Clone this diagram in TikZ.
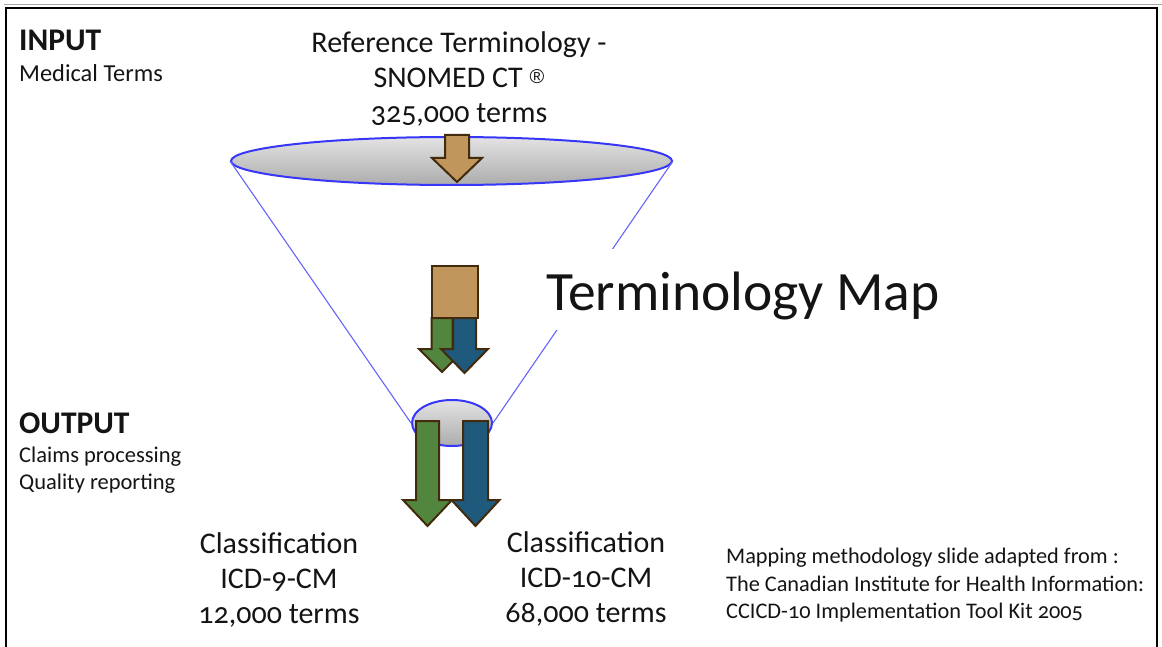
\documentclass[tikz,border=0pt]{standalone}
\usepackage{fontspec}
\setmainfont{Carlito}[Numbers=OldStyle]
\newfontfamily\regfont{Liberation Sans}
\usetikzlibrary{shapes.geometric}

\definecolor{tanfill}{RGB}{193,150,92}
\definecolor{mapgreen}{RGB}{82,134,62}
\definecolor{mapblue}{RGB}{31,90,125}
\definecolor{edgebrown}{RGB}{66,42,12}
\definecolor{rimblue}{RGB}{55,55,250}
\definecolor{funnelblue}{RGB}{100,100,250}
\definecolor{txt}{RGB}{20,20,20}

% block arrow pointing down: style, centre x, top y, shaft half-width, head y, head half-width, tip y
\newcommand{\blockdown}[7]{%
  \draw[#1] ({#2-#4},#3) -- ({#2+#4},#3) -- ({#2+#4},#5) -- ({#2+#6},#5)
    -- (#2,#7) -- ({#2-#6},#5) -- ({#2-#4},#5) -- cycle;}

\tikzset{
  blockedge/.style={draw=edgebrown, line width=2pt, line join=miter},
  rim/.style={ellipse, draw=rimblue, line width=2pt, inner sep=0pt,
    top color=gray!22, bottom color=gray!65},
  funnel/.style={draw=funnelblue, line width=1.1pt},
  label/.style={text=txt, inner sep=0pt, anchor=base, font=\fontsize{30}{30}\selectfont},
  side/.style={text=txt, inner sep=0pt, anchor=base west},
  heading/.style={side, font=\bfseries\fontsize{31.5}{31.5}\selectfont},
  note/.style={side, font=\fontsize{22.3}{22.3}\selectfont},
}

\begin{document}
\begin{tikzpicture}[x=1pt, y=-1pt]
\useasboundingbox (0,0) rectangle (1162,647);

% frame
\draw[gray!70, line width=1.5pt] (4,4.5) -- (1162,4.5);
\draw[black, line width=2.5pt] (6,647) -- (6,8) -- (1157,8) -- (1157,647);

% funnel rims
\node[rim, minimum width=441pt, minimum height=48pt] (top) at (451.5,161) {};
\node[rim, minimum width=80pt, minimum height=46pt] (bottom) at (452,423) {};
\draw[funnel] (top.west) -- (bottom.west);
\draw[funnel] (top.east) -- (bottom.east);

% terminology map title, masking the funnel side
\node[fill=white, anchor=base west, inner xsep=6pt, inner ysep=0pt,
  text height=61pt, text depth=20pt, text=txt,
  font=\fontsize{55.5}{55.5}\selectfont] (tmap) at (540,310) {Terminology Map};

% incoming arrow
\blockdown{blockedge, fill=tanfill}{457}{135}{12}{158}{25}{182}

% mapping step
\blockdown{blockedge, fill=mapgreen}{442}{318}{10.5}{349}{23}{372}
\blockdown{blockedge, fill=mapblue}{464.5}{318}{11.5}{349}{23.5}{373}
\draw[blockedge, fill=tanfill] (432,266) rectangle (478,318);

% outgoing arrows
\blockdown{blockedge, fill=mapgreen}{427.5}{421}{11.5}{500}{24.5}{526}
\blockdown{blockedge, fill=mapblue}{475.5}{421}{12.5}{500}{24}{526}

% input labels
\node[heading] (inp) at (19,51) {INPUT};
\node[side, font=\fontsize{24.4}{24.4}\selectfont] (inp1) at (19,82) {Medical Terms};

% reference terminology
\node[label] (ref1) at (459,53) {Reference Terminology -};
\node[label] (ref2) at (459,88) {SNOMED CT \raisebox{4pt}{\regfont\fontsize{20}{20}\selectfont ®}};
\node[label] (ref3) at (459,123) {325,000 terms};

% output labels
\node[heading] (out) at (19,433) {OUTPUT};
\node[side, font=\fontsize{22.5}{22.5}\selectfont] (out1) at (19,462) {Claims processing};
\node[side, font=\fontsize{22.5}{22.5}\selectfont] (out2) at (19,489) {Quality reporting};

% classifications
\node[label] (c91) at (279,553) {Classification};
\node[label] (c92) at (279,588) {ICD-9-CM};
\node[label] (c93) at (279,623) {12,000 terms};
\node[label] (c101) at (586,552) {Classification};
\node[label] (c102) at (586,587) {ICD-10-CM};
\node[label] (c103) at (586,622) {68,000 terms};

% source note
\node[note] (n1) at (726,563) {Mapping methodology slide adapted from :};
\node[note] (n2) at (726,591) {The Canadian Institute for Health Information:};
\node[note] (n3) at (726,618) {CCICD-10 Implementation Tool Kit 2005};
\end{tikzpicture}
\end{document}
